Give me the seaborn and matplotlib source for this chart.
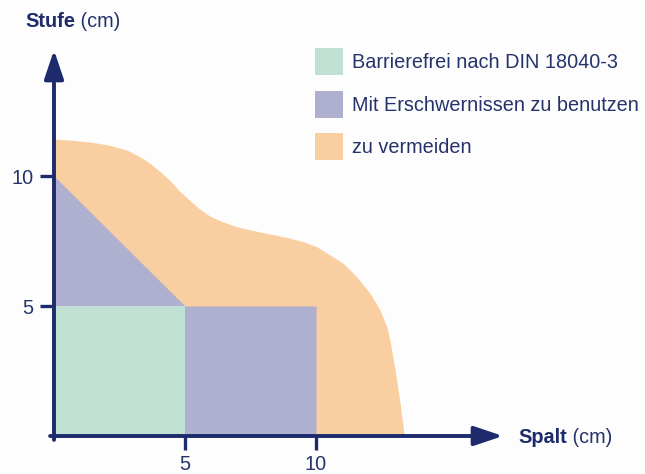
import matplotlib
matplotlib.use('Agg')
import matplotlib.pyplot as plt
import seaborn as sns
from matplotlib.patches import Patch

# Grenzkurve "zu vermeiden" (Spalt in cm, Stufe in cm)
spalt_grenze = [0.00, 0.61, 1.37, 2.14, 2.77, 3.28, 3.66, 4.05, 4.43, 4.81,
                5.19, 5.57, 5.95, 6.34, 6.97, 7.61, 8.24, 8.88, 9.52, 10.03,
                10.53, 11.04, 11.55, 12.06, 12.44, 12.70, 12.82, 13.02, 13.21, 13.37]
stufe_grenze = [11.42, 11.38, 11.31, 11.18, 11.00, 10.74, 10.49, 10.17, 9.82, 9.40,
                9.05, 8.72, 8.46, 8.28, 8.05, 7.90, 7.77, 7.64, 7.47, 7.28,
                6.96, 6.64, 6.13, 5.49, 4.85, 4.20, 3.69, 2.54, 1.26, 0.00]

# mit Erschwernissen zu benutzen
spalt_erschwert = [0, 5, 10]
stufe_erschwert = [10, 5, 5]

# barrierefrei
spalt_frei = [0, 5]
stufe_frei = [5, 5]

x_ticks = [5, 10]
y_ticks = [5, 10]

kategorien = ['Barrierefrei nach DIN 18040-3',
              'Mit Erschwernissen zu benutzen',
              'zu vermeiden']
farben = ['#c1e0d4', '#afb0cf', '#f9cea0']

navy = '#1d2b6c'
text_color = '#25336a'

W, H = 645, 474
X0, Y0 = 54, 436        # pixel position of the origin
SX, SY = 26.2, 26.0     # pixels per cm
FS = 14.3


def plot_diagram(save_path='out.png'):
    sns.set_style('white')
    plt.rcParams['font.family'] = ['Liberation Sans', 'DejaVu Sans']

    fig = plt.figure(figsize=(W / 100, H / 100), dpi=100)
    fig.patch.set_facecolor('#fdfdfe')
    ax = fig.add_axes([0, 0, 1, 1])
    ax.set_facecolor('none')

    ax.fill_between(spalt_grenze, stufe_grenze, 0, color=farben[2], lw=0)
    ax.fill_between(spalt_erschwert, stufe_erschwert, 0, color=farben[1], lw=0)
    ax.fill_between(spalt_frei, stufe_frei, 0, color=farben[0], lw=0)

    ax.set_xlim(-X0 / SX, (W - X0) / SX)
    ax.set_ylim(-(H - Y0) / SY, Y0 / SY)

    # axes as arrows
    x_tip = (503 - X0) / SX
    y_tip = (Y0 - 50) / SY
    arrow = dict(arrowstyle='-|>,head_length=1.25,head_width=0.42',
                 lw=2.8, color=navy, mutation_scale=14, shrinkA=0, shrinkB=0)
    ax.annotate('', xy=(x_tip, 0), xytext=(-0.15, 0), arrowprops=arrow)
    ax.annotate('', xy=(0, y_tip), xytext=(0, -0.15), arrowprops=arrow)

    for s in ax.spines.values():
        s.set_visible(False)
    ax.spines['bottom'].set_position(('data', 0))
    ax.spines['left'].set_position(('data', 0))
    ax.set_xticks(x_ticks)
    ax.set_yticks(y_ticks)
    ax.tick_params(axis='both', direction='out', length=10, width=2.4,
                   color=navy, labelcolor=text_color, labelsize=FS)
    ax.tick_params(axis='x', pad=4, bottom=True)
    ax.tick_params(axis='y', pad=5, left=True)

    # axis titles
    t1 = fig.text(25 / W, 1 - 27 / H, 'Stufe', fontsize=FS, fontweight='bold',
                  color=navy, va='baseline', ha='left')
    ax.annotate(' (cm)', xy=(1, 0), xycoords=t1, va='bottom', ha='left',
                fontsize=FS, color=text_color)
    t2 = fig.text(518 / W, 1 - 443 / H, 'Spalt', fontsize=FS, fontweight='bold',
                  color=navy, va='baseline', ha='left')
    ax.annotate(' (cm)', xy=(1, 0), xycoords=t2, va='bottom', ha='left',
                fontsize=FS, color=text_color)

    handles = [Patch(facecolor=c, edgecolor='none', label=k)
               for c, k in zip(farben, kategorien)]
    fig.legend(handles=handles, loc='upper left',
               bbox_to_anchor=(315 / W, 1 - 48 / H), frameon=False,
               borderpad=0, borderaxespad=0, fontsize=FS,
               handlelength=1.41, handleheight=1.7, handletextpad=0.45,
               labelspacing=0.8, labelcolor=text_color)

    if save_path is not None:
        plt.savefig(save_path, dpi=100, facecolor=fig.get_facecolor())


if __name__ == '__main__':
    plot_diagram('out.png')
